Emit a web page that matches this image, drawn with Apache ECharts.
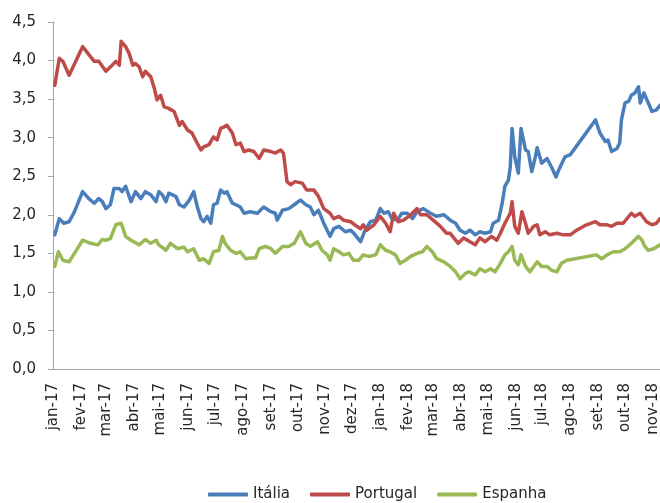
<!DOCTYPE html>
<html>
<head>
<meta charset="utf-8">
<script src="https://cdn.jsdelivr.net/npm/echarts@6/dist/echarts.min.js"></script>
<style>
  html, body { margin: 0; padding: 0; background: #fff; }
  #chart { width: 660px; height: 503px; }
</style>
</head>
<body>
<div id="chart"></div>
<script>
// Spread (p.p.) series: dates and values
const monthNames = ['jan', 'fev', 'mar', 'abr', 'mai', 'jun', 'jul', 'ago', 'set', 'out', 'nov', 'dez'];
const yTicks = [0, 0.5, 1, 1.5, 2, 2.5, 3, 3.5, 4, 4.5];

const ptDates = ['2017-01-03','2017-01-08','2017-01-12','2017-01-19','2017-02-03','2017-02-16','2017-02-21','2017-03-01','2017-03-08','2017-03-12','2017-03-16','2017-03-18','2017-03-23','2017-03-27','2017-03-31','2017-04-03','2017-04-07','2017-04-11','2017-04-14','2017-04-20','2017-04-24','2017-04-27','2017-05-01','2017-05-05','2017-05-10','2017-05-16','2017-05-22','2017-05-25','2017-05-31','2017-06-05','2017-06-09','2017-06-15','2017-06-18','2017-06-24','2017-06-29','2017-07-03','2017-07-07','2017-07-11','2017-07-14','2017-07-20','2017-07-24','2017-07-29','2017-08-02','2017-08-07','2017-08-13','2017-08-19','2017-08-24','2017-09-01','2017-09-06','2017-09-12','2017-09-15','2017-09-19','2017-09-23','2017-09-28','2017-10-06','2017-10-11','2017-10-19','2017-10-24','2017-10-30','2017-11-06','2017-11-10','2017-11-16','2017-11-21','2017-11-29','2017-12-06','2017-12-10','2017-12-13','2017-12-17','2017-12-25','2018-01-01','2018-01-07','2018-01-12','2018-01-16','2018-01-21','2018-01-27','2018-02-04','2018-02-11','2018-02-15','2018-02-22','2018-03-01','2018-03-09','2018-03-16','2018-03-20','2018-03-29','2018-04-04','2018-04-11','2018-04-17','2018-04-22','2018-04-28','2018-05-05','2018-05-11','2018-05-15','2018-05-20','2018-05-26','2018-05-28','2018-05-31','2018-06-04','2018-06-08','2018-06-12','2018-06-15','2018-06-21','2018-06-25','2018-06-28','2018-07-04','2018-07-09','2018-07-17','2018-07-24','2018-08-01','2018-08-08','2018-08-19','2018-08-29','2018-09-03','2018-09-11','2018-09-16','2018-09-22','2018-09-29','2018-10-08','2018-10-12','2018-10-18','2018-10-25','2018-10-31','2018-11-05','2018-11-09'];
const ptValues = [3.68,4.03,3.99,3.81,4.18,3.99,3.99,3.86,3.94,3.99,3.94,4.25,4.18,4.09,3.94,3.96,3.92,3.79,3.86,3.79,3.64,3.49,3.55,3.40,3.38,3.34,3.16,3.21,3.10,3.06,2.97,2.84,2.88,2.91,3.01,2.97,3.12,3.14,3.16,3.06,2.91,2.93,2.82,2.84,2.82,2.73,2.84,2.82,2.80,2.84,2.80,2.43,2.39,2.43,2.41,2.32,2.32,2.24,2.08,2.02,1.95,1.98,1.93,1.91,1.85,1.82,1.87,1.80,1.87,1.98,1.89,1.78,2.02,1.91,1.93,2.00,2.08,2.00,2.00,1.93,1.85,1.76,1.76,1.63,1.70,1.65,1.61,1.70,1.65,1.72,1.67,1.76,1.89,2.02,2.17,1.85,1.76,2.04,1.89,1.76,1.85,1.87,1.74,1.78,1.74,1.76,1.74,1.74,1.80,1.87,1.91,1.87,1.87,1.85,1.89,1.89,2.02,1.98,2.02,1.91,1.87,1.89,1.95];

const itDates = ['2017-01-03','2017-01-08','2017-01-13','2017-01-19','2017-01-25','2017-02-03','2017-02-10','2017-02-16','2017-02-21','2017-02-25','2017-03-01','2017-03-06','2017-03-10','2017-03-16','2017-03-19','2017-03-23','2017-03-29','2017-04-03','2017-04-09','2017-04-14','2017-04-20','2017-04-26','2017-04-29','2017-05-03','2017-05-07','2017-05-10','2017-05-18','2017-05-22','2017-05-27','2017-06-02','2017-06-07','2017-06-11','2017-06-15','2017-06-18','2017-06-22','2017-06-26','2017-06-29','2017-07-03','2017-07-07','2017-07-11','2017-07-14','2017-07-20','2017-07-24','2017-07-29','2017-08-02','2017-08-09','2017-08-17','2017-08-24','2017-09-01','2017-09-06','2017-09-08','2017-09-14','2017-09-21','2017-09-27','2017-10-04','2017-10-10','2017-10-15','2017-10-19','2017-10-24','2017-10-30','2017-11-06','2017-11-10','2017-11-16','2017-11-23','2017-11-29','2017-12-04','2017-12-10','2017-12-15','2017-12-21','2017-12-27','2018-01-01','2018-01-05','2018-01-10','2018-01-14','2018-01-20','2018-01-25','2018-01-31','2018-02-06','2018-02-11','2018-02-18','2018-02-26','2018-03-05','2018-03-13','2018-03-20','2018-03-26','2018-03-31','2018-04-06','2018-04-11','2018-04-17','2018-04-22','2018-04-28','2018-05-04','2018-05-07','2018-05-13','2018-05-17','2018-05-20','2018-05-24','2018-05-26','2018-05-28','2018-05-31','2018-06-04','2018-06-07','2018-06-12','2018-06-15','2018-06-19','2018-06-23','2018-06-25','2018-06-30','2018-07-06','2018-07-11','2018-07-16','2018-07-19','2018-07-26','2018-08-01','2018-08-29','2018-09-03','2018-09-09','2018-09-12','2018-09-16','2018-09-22','2018-09-25','2018-09-27','2018-10-01','2018-10-05','2018-10-08','2018-10-12','2018-10-16','2018-10-18','2018-10-22','2018-10-27','2018-10-31','2018-11-05','2018-11-09'];
const itValues = [1.74,1.95,1.89,1.91,2.04,2.30,2.21,2.15,2.21,2.17,2.08,2.13,2.34,2.34,2.30,2.37,2.17,2.30,2.21,2.30,2.26,2.17,2.30,2.26,2.17,2.28,2.24,2.13,2.10,2.19,2.30,2.10,1.95,1.91,1.98,1.89,2.13,2.15,2.32,2.28,2.30,2.15,2.13,2.10,2.02,2.04,2.02,2.10,2.04,2.02,1.93,2.06,2.08,2.13,2.19,2.13,2.10,2.00,2.06,1.89,1.72,1.82,1.85,1.78,1.80,1.74,1.65,1.80,1.91,1.93,2.08,2.02,2.04,1.95,1.93,2.02,2.02,1.95,2.04,2.08,2.02,1.98,2.00,1.93,1.89,1.80,1.76,1.80,1.74,1.78,1.76,1.78,1.89,1.93,2.15,2.37,2.45,2.62,3.12,2.75,2.54,3.12,2.84,2.82,2.56,2.75,2.87,2.67,2.73,2.62,2.49,2.58,2.75,2.78,3.23,3.06,2.95,2.97,2.82,2.86,2.93,3.23,3.45,3.47,3.55,3.58,3.66,3.45,3.58,3.45,3.34,3.36,3.42];

const esDates = ['2017-01-03','2017-01-07','2017-01-12','2017-01-19','2017-02-03','2017-02-12','2017-02-20','2017-02-25','2017-03-01','2017-03-06','2017-03-12','2017-03-18','2017-03-23','2017-03-29','2017-04-07','2017-04-14','2017-04-20','2017-04-26','2017-04-29','2017-05-07','2017-05-12','2017-05-20','2017-05-27','2017-05-31','2017-06-07','2017-06-13','2017-06-18','2017-06-24','2017-06-29','2017-07-05','2017-07-09','2017-07-12','2017-07-18','2017-07-24','2017-07-29','2017-08-04','2017-08-09','2017-08-15','2017-08-19','2017-08-26','2017-09-01','2017-09-06','2017-09-14','2017-09-21','2017-09-27','2017-10-04','2017-10-10','2017-10-15','2017-10-23','2017-10-28','2017-11-03','2017-11-06','2017-11-10','2017-11-16','2017-11-21','2017-11-27','2017-12-02','2017-12-08','2017-12-13','2017-12-19','2017-12-27','2018-01-01','2018-01-07','2018-01-12','2018-01-18','2018-01-23','2018-01-29','2018-02-04','2018-02-11','2018-02-17','2018-02-22','2018-02-28','2018-03-05','2018-03-13','2018-03-20','2018-03-26','2018-03-31','2018-04-06','2018-04-10','2018-04-17','2018-04-22','2018-04-28','2018-05-04','2018-05-09','2018-05-15','2018-05-20','2018-05-24','2018-05-28','2018-05-31','2018-06-04','2018-06-07','2018-06-12','2018-06-17','2018-06-25','2018-06-30','2018-07-06','2018-07-11','2018-07-17','2018-07-22','2018-07-28','2018-08-30','2018-09-05','2018-09-11','2018-09-18','2018-09-25','2018-10-01','2018-10-08','2018-10-16','2018-10-20','2018-10-23','2018-10-27','2018-11-02','2018-11-09'];
const esValues = [1.33,1.52,1.41,1.39,1.67,1.63,1.61,1.68,1.67,1.69,1.87,1.89,1.72,1.67,1.61,1.68,1.63,1.67,1.61,1.54,1.63,1.56,1.58,1.52,1.56,1.41,1.43,1.37,1.52,1.54,1.72,1.63,1.54,1.50,1.52,1.43,1.44,1.44,1.56,1.59,1.56,1.50,1.59,1.59,1.63,1.78,1.63,1.59,1.65,1.54,1.48,1.41,1.56,1.52,1.48,1.50,1.41,1.41,1.48,1.46,1.48,1.61,1.54,1.52,1.48,1.37,1.41,1.46,1.50,1.52,1.59,1.52,1.43,1.39,1.33,1.26,1.17,1.24,1.26,1.22,1.30,1.26,1.30,1.26,1.37,1.48,1.52,1.59,1.41,1.35,1.48,1.33,1.26,1.39,1.33,1.33,1.28,1.26,1.37,1.41,1.48,1.43,1.48,1.52,1.52,1.56,1.63,1.72,1.67,1.59,1.54,1.56,1.61];

// Dates become day timestamps on a numeric axis
const toTs = (s) => { const p = s.split('-').map(Number); return new Date(p[0], p[1] - 1, p[2]).getTime(); };

// First day of every month shown on the date axis
const monthStarts = [];
for (let y = 2017, m = 0; y < 2018 || m <= 10; ) {
  monthStarts.push(new Date(y, m, 1).getTime());
  m++; if (m > 11) { m = 0; y++; }
}

const pairs = (d, v) => d.map((x, i) => [toTs(x), v[i]]);
const FONT = 'DejaVu Sans';

const chart = echarts.init(document.getElementById('chart'), null, { renderer: 'canvas' });
chart.setOption({
  animation: false,
  backgroundColor: '#ffffff',
  grid: { left: 53, right: 0, top: 22, bottom: 134, containLabel: false, outerBoundsMode: 'none' },
  xAxis: {
    type: 'value',
    min: toTs('2017-01-01'),
    max: toTs('2018-11-09'),
    axisLine: { lineStyle: { color: '#a6a6a6', width: 1 } },
    axisTick: { show: false },
    splitLine: { show: false },
    axisLabel: {
      customValues: monthStarts,
      rotate: 90,
      margin: 14,
      color: '#262626',
      fontFamily: FONT,
      fontSize: 15,
      showMinLabel: true,
      showMaxLabel: true,
      formatter: (v) => {
        const d = new Date(v);
        return monthNames[d.getMonth()] + '-' + String(d.getFullYear()).slice(2);
      }
    }
  },
  yAxis: {
    type: 'value',
    min: yTicks[0],
    max: yTicks[yTicks.length - 1],
    interval: 0.5,
    axisLine: { show: true, lineStyle: { color: '#a6a6a6', width: 1 } },
    axisTick: { show: true, length: 5, lineStyle: { color: '#a6a6a6' } },
    splitLine: { show: false },
    axisLabel: {
      margin: 17,
      color: '#262626',
      fontFamily: FONT,
      fontSize: 15,
      formatter: (v) => v.toFixed(1).replace('.', ',')
    }
  },
  legend: {
    left: 203,
    top: 482,
    itemWidth: 40,
    itemHeight: 4,
    itemGap: 20,
    icon: 'roundRect',
    textStyle: { fontFamily: FONT, fontSize: 15, color: '#262626' },
    data: ['Itália', 'Portugal', 'Espanha']
  },
  series: [
    { name: 'Itália', type: 'line', data: pairs(itDates, itValues), showSymbol: false,
      lineStyle: { color: '#4a7ebb', width: 3.5, join: 'round', cap: 'round' }, itemStyle: { color: '#4a7ebb' } },
    { name: 'Portugal', type: 'line', data: pairs(ptDates, ptValues), showSymbol: false,
      lineStyle: { color: '#be4b48', width: 3.5, join: 'round', cap: 'round' }, itemStyle: { color: '#be4b48' } },
    { name: 'Espanha', type: 'line', data: pairs(esDates, esValues), showSymbol: false,
      lineStyle: { color: '#98b954', width: 3.5, join: 'round', cap: 'round' }, itemStyle: { color: '#98b954' } }
  ]
});
</script>
</body>
</html>
